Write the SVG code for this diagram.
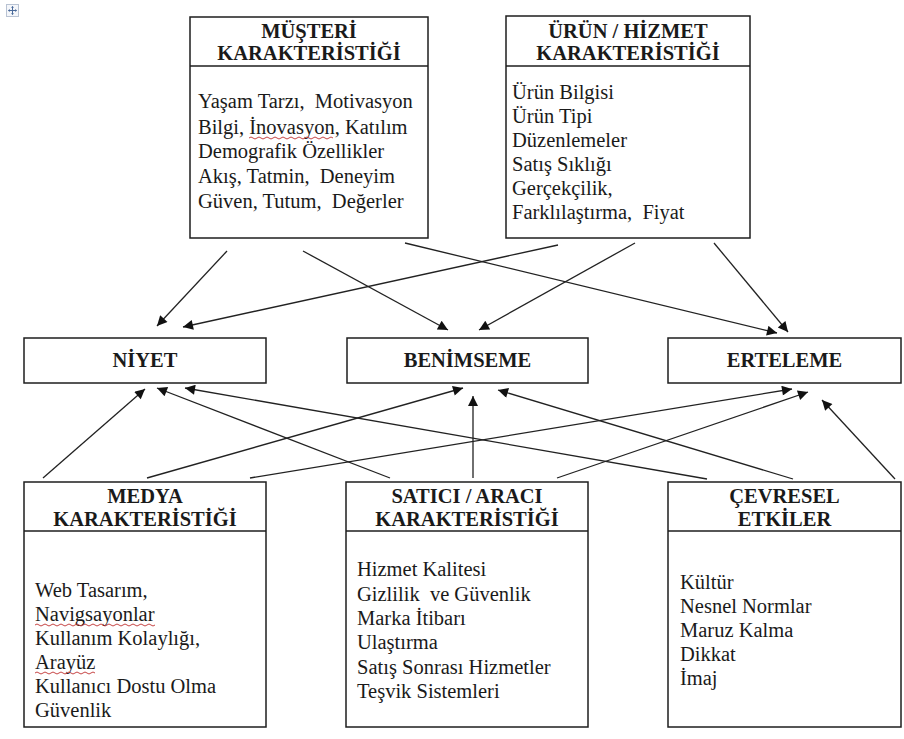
<svg xmlns="http://www.w3.org/2000/svg" width="904" height="739" viewBox="0 0 904 739">
  <style>
    .box { fill: #ffffff; stroke: #1e1e1e; stroke-width: 1.5; }
    .div { stroke: #1e1e1e; stroke-width: 1.5; }
    .hd { font-family: "Liberation Serif", "Times New Roman", serif; font-weight: bold; font-size: 20.5px; fill: #1a1a1a; text-anchor: middle; }
    .tx { font-family: "Liberation Serif", "Times New Roman", serif; font-size: 20.5px; fill: #1a1a1a; }
    .arr { stroke: #222222; stroke-width: 1.3; fill: none; marker-end: url(#head); }
    .sq { stroke: #c03030; stroke-width: 0.9; fill: none; }
  </style>
  <defs>
    <marker id="head" viewBox="0 0 10 10" refX="10" refY="5" markerWidth="13" markerHeight="10" markerUnits="userSpaceOnUse" orient="auto">
      <path d="M0,0 L10,5 L0,10 z" fill="#111111"/>
    </marker>
  </defs>
  <rect width="904" height="739" fill="#ffffff"/>

  <!-- table move handle -->
  <g id="handle">
    <rect x="6.5" y="4.5" width="12" height="12" fill="#f4f6fa" stroke="#b9c3d3" stroke-width="1"/>
    <path d="M12.5,6.5 V14.5 M8.5,10.5 H16.5" stroke="#4a6a9a" stroke-width="1"/>
    <path d="M12.5,6 l-1.5,1.8 h3 z M12.5,15 l-1.5,-1.8 h3 z M8,10.5 l1.8,-1.5 v3 z M17,10.5 l-1.8,-1.5 v3 z" fill="#4a6a9a"/>
  </g>

  <!-- connectors -->
  <g id="connectors">
    <line class="arr" x1="227" y1="251" x2="157" y2="326"/>
    <line class="arr" x1="303" y1="251" x2="448" y2="330"/>
    <line class="arr" x1="405" y1="243" x2="777" y2="333"/>
    <line class="arr" x1="558" y1="245" x2="183" y2="327"/>
    <line class="arr" x1="635" y1="243" x2="479" y2="330"/>
    <line class="arr" x1="714" y1="243" x2="788" y2="332"/>
    <line class="arr" x1="43" y1="478" x2="145" y2="389"/>
    <line class="arr" x1="147" y1="478" x2="463" y2="388"/>
    <line class="arr" x1="250" y1="478" x2="792" y2="389"/>
    <line class="arr" x1="390" y1="478" x2="157" y2="388"/>
    <line class="arr" x1="473" y1="478" x2="473" y2="396"/>
    <line class="arr" x1="557" y1="478" x2="808" y2="392"/>
    <line class="arr" x1="707" y1="479" x2="185" y2="388"/>
    <line class="arr" x1="793" y1="479" x2="498" y2="390"/>
    <line class="arr" x1="895" y1="479" x2="822" y2="400"/>
  </g>

  <!-- customer characteristics -->
  <g id="musteri">
    <rect class="box" x="190" y="17" width="238" height="221"/>
    <line class="div" x1="190" y1="66" x2="428" y2="66"/>
    <text class="hd" x="309" y="38">MÜŞTERİ</text>
    <text class="hd" x="309" y="60">KARAKTERİSTİĞİ</text>
    <text class="tx" x="198" y="108" xml:space="preserve">Yaşam Tarzı,  Motivasyon</text>
    <text class="tx" x="198" y="134">Bilgi, İnovasyon, Katılım</text>
    <text class="tx" x="198" y="158">Demografik Özellikler</text>
    <text class="tx" x="198" y="183" xml:space="preserve">Akış, Tatmin,  Deneyim</text>
    <text class="tx" x="198" y="208" xml:space="preserve">Güven, Tutum,  Değerler</text>
    <path class="sq" d="M249,138 q2,-2 4,0 t4,0 t4,0 t4,0 t4,0 t4,0 t4,0 t4,0 t4,0 t4,0 t4,0 t4,0 t4,0 t4,0 t4,0 t4,0 t4,0 t4,0 t4,0 t4,0 t4,0"/>
  </g>

  <!-- product / service characteristics -->
  <g id="urun">
    <rect class="box" x="506" y="16" width="244" height="222"/>
    <line class="div" x1="506" y1="66" x2="750" y2="66"/>
    <text class="hd" x="628" y="38">ÜRÜN / HİZMET</text>
    <text class="hd" x="628" y="60">KARAKTERİSTİĞİ</text>
    <text class="tx" x="512" y="99">Ürün Bilgisi</text>
    <text class="tx" x="512" y="123">Ürün Tipi</text>
    <text class="tx" x="512" y="147">Düzenlemeler</text>
    <text class="tx" x="512" y="171">Satış Sıklığı</text>
    <text class="tx" x="512" y="195">Gerçekçilik,</text>
    <text class="tx" x="512" y="219" xml:space="preserve">Farklılaştırma,  Fiyat</text>
  </g>

  <!-- outcomes -->
  <g id="niyet">
    <rect class="box" x="24" y="338" width="242" height="45"/>
    <text class="hd" x="145" y="367">NİYET</text>
  </g>
  <g id="benimseme">
    <rect class="box" x="347" y="338" width="241" height="45"/>
    <text class="hd" x="467.5" y="367">BENİMSEME</text>
  </g>
  <g id="erteleme">
    <rect class="box" x="668" y="338" width="233" height="45"/>
    <text class="hd" x="784.5" y="367">ERTELEME</text>
  </g>

  <!-- media characteristics -->
  <g id="medya">
    <rect class="box" x="24" y="482" width="242" height="245"/>
    <line class="div" x1="24" y1="531" x2="266" y2="531"/>
    <text class="hd" x="145" y="503">MEDYA</text>
    <text class="hd" x="145" y="526">KARAKTERİSTİĞİ</text>
    <text class="tx" x="35" y="597">Web Tasarım,</text>
    <text class="tx" x="35" y="621">Navigsayonlar</text>
    <text class="tx" x="35" y="645">Kullanım Kolaylığı,</text>
    <text class="tx" x="35" y="669">Arayüz</text>
    <text class="tx" x="35" y="693">Kullanıcı Dostu Olma</text>
    <text class="tx" x="35" y="717">Güvenlik</text>
    <path class="sq" d="M35,625 q2,-2 4,0 t4,0 t4,0 t4,0 t4,0 t4,0 t4,0 t4,0 t4,0 t4,0 t4,0 t4,0 t4,0 t4,0 t4,0 t4,0 t4,0 t4,0 t4,0 t4,0 t4,0 t4,0 t4,0 t4,0 t4,0 t4,0 t4,0 t4,0 t4,0 t4,0"/>
    <path class="sq" d="M35,673 q2,-2 4,0 t4,0 t4,0 t4,0 t4,0 t4,0 t4,0 t4,0 t4,0 t4,0 t4,0 t4,0 t4,0 t4,0 t4,0"/>
  </g>

  <!-- seller / intermediary characteristics -->
  <g id="satici">
    <rect class="box" x="346" y="482" width="242" height="245"/>
    <line class="div" x1="346" y1="531" x2="588" y2="531"/>
    <text class="hd" x="467" y="503">SATICI / ARACI</text>
    <text class="hd" x="467" y="526">KARAKTERİSTİĞİ</text>
    <text class="tx" x="357" y="576">Hizmet Kalitesi</text>
    <text class="tx" x="357" y="601" xml:space="preserve">Gizlilik  ve Güvenlik</text>
    <text class="tx" x="357" y="625">Marka İtibarı</text>
    <text class="tx" x="357" y="649">Ulaştırma</text>
    <text class="tx" x="357" y="674">Satış Sonrası Hizmetler</text>
    <text class="tx" x="357" y="698">Teşvik Sistemleri</text>
  </g>

  <!-- environmental effects -->
  <g id="cevresel">
    <rect class="box" x="668" y="482" width="233" height="245"/>
    <line class="div" x1="668" y1="531" x2="901" y2="531"/>
    <text class="hd" x="784.5" y="503">ÇEVRESEL</text>
    <text class="hd" x="784.5" y="526">ETKİLER</text>
    <text class="tx" x="680" y="589">Kültür</text>
    <text class="tx" x="680" y="613">Nesnel Normlar</text>
    <text class="tx" x="680" y="637">Maruz Kalma</text>
    <text class="tx" x="680" y="661">Dikkat</text>
    <text class="tx" x="680" y="685">İmaj</text>
  </g>
</svg>
